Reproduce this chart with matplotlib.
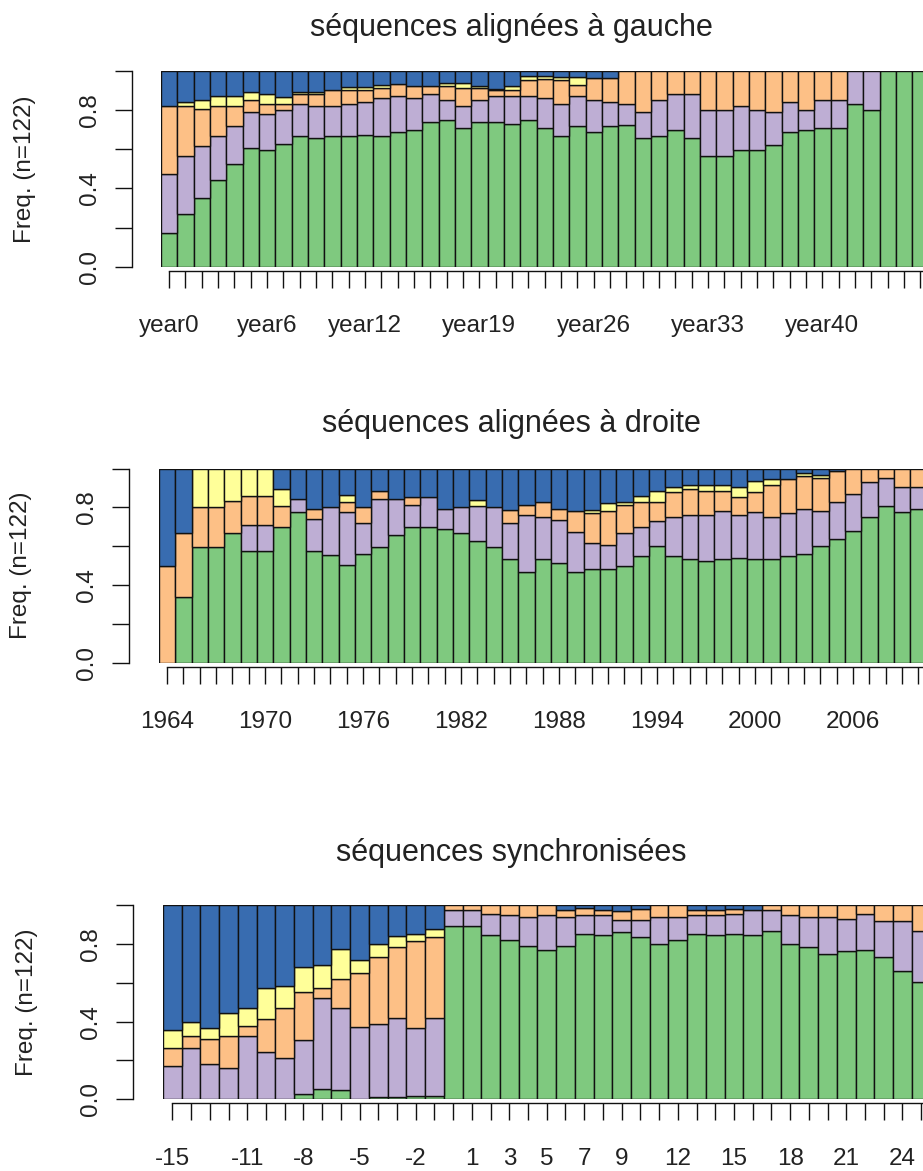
import matplotlib
matplotlib.use('Agg')
import matplotlib.pyplot as plt
import numpy as np

plt.rcParams['font.family'] = ['Liberation Sans', 'DejaVu Sans']

W, H = 923, 1171
STATE_COLORS = ['#7FC97F', '#BEAED4', '#FDC086', '#FFFF99', '#386CB0']

# ---------------- Panel 1 : sequences aligned left (year0 ...) ----------------
left_ticks = [f'year{i}' for i in range(47)]
left_shown = ['year0', 'year6', 'year12', 'year19', 'year26', 'year33', 'year40']
left_green = [.174, .268, .350, .441, .525, .607, .598, .627, .667, .656, .667, .667, .675, .667, .687, .697,
              .740, .749, .709, .740, .740, .730, .749, .706, .667, .718, .687, .718, .726, .658, .667, .697,
              .658, .564, .564, .595, .595, .624, .687, .697, .706, .706, .832, .800, 1.0, 1.0, 1.0]
left_purple = [.300, .296, .265, .226, .193, .183, .180, .173, .162, .165, .154, .165, .168, .196, .185, .166,
               .144, .102, .112, .111, .132, .142, .123, .157, .165, .154, .164, .123, .106, .133, .184, .187,
               .226, .236, .236, .226, .203, .166, .154, .101, .145, .145, .168, .200, 0, 0, 0]
left_orange = [.347, .257, .188, .154, .103, .060, .054, .029, .055, .063, .080, .069, .058, .052, .060, .060,
               .039, .074, .094, .064, .029, .029, .082, .094, .120, .054, .115, .125, .168, .209, .149, .116,
               .116, .200, .200, .179, .202, .210, .159, .202, .149, .149, 0, 0, 0, 0, 0]
left_yellow = [0, .020, .048, .051, .051, .042, .052, .039, .010, .006, 0, .019, .019, .011, 0, 0,
               0, .014, .022, .008, .005, .022, .020, .017, .019, .045, 0, 0, 0, 0, 0, 0,
               0, 0, 0, 0, 0, 0, 0, 0, 0, 0, 0, 0, 0, 0, 0]
left_blue = [.179, .159, .149, .128, .128, .108, .116, .132, .106, .110, .099, .080, .080, .074, .068, .077,
             .077, .063, .063, .077, .094, .077, .026, .026, .029, .029, .034, .034, 0, 0, 0, 0,
             0, 0, 0, 0, 0, 0, 0, 0, 0, 0, 0, 0, 0, 0, 0]

# ---------------- Panel 2 : sequences aligned right (1964 ...) ----------------
right_ticks = [str(1964 + i) for i in range(47)]
right_shown = ['1964', '1970', '1976', '1982', '1988', '1994', '2000', '2006']
right_green = [0, .336, .595, .595, .667, .576, .576, .698, .774, .576, .555, .503, .560, .595, .659, .698,
               .698, .688, .667, .629, .595, .534, .469, .534, .512, .469, .481, .481, .500, .552, .603, .552,
               .534, .524, .534, .541, .534, .534, .552, .560, .603, .636, .679, .750, .810, .774, .791]
right_purple = [0, 0, 0, 0, 0, .134, .134, 0, .071, .164, .247, .271, .159, .248, .184, .116,
                .155, .103, .135, .181, .207, .185, .290, .216, .221, .202, .135, .126, .167, .146, .128, .198,
                .225, .235, .249, .218, .240, .216, .219, .231, .180, .190, .190, .179, .142, .131, .114]
right_orange = [.500, .330, .207, .207, .167, .147, .147, .107, 0, .051, 0, .054, .083, .040, 0, .039,
                0, 0, 0, 0, 0, .069, .055, .076, .058, .112, .155, .176, .147, .130, .095, .129,
                .138, .127, .103, .094, .104, .167, .177, .169, .169, .162, .131, .071, .048, .095, .095]
right_yellow = [0, 0, .198, .198, .166, .143, .143, .092, 0, 0, 0, .038, 0, 0, 0, 0,
                0, 0, 0, .030, 0, 0, 0, 0, 0, 0, .017, .039, .012, .029, .060, .026,
                .020, .031, .028, .050, .060, .031, 0, .018, .017, 0, 0, 0, 0, 0, 0]
right_blue = [.500, .334, 0, 0, 0, 0, 0, .103, .155, .209, .198, .134, .198, .117, .157, .147,
              .147, .209, .198, .160, .198, .212, .186, .174, .209, .217, .212, .178, .174, .143, .114, .095,
              .083, .083, .086, .097, .062, .052, .052, .022, .031, .012, 0, 0, 0, 0, 0]

# ---------------- Panel 3 : synchronised sequences (-15 ...) ----------------
sync_ticks = [str(i) for i in range(-15, 26)]
sync_shown = ['-15', '-11', '-8', '-5', '-2', '1', '3', '5', '7', '9', '12', '15', '18', '21', '24']
sync_green = [0, 0, 0, 0, 0, 0, 0, .026, .052, .047, 0, .010, .010, .016, .016, .895,
              .895, .845, .822, .791, .771, .791, .853, .845, .862, .834, .802, .822, .853, .845, .853, .845,
              .866, .802, .784, .750, .762, .771, .733, .659, .607]
sync_purple = [.171, .262, .181, .162, .328, .245, .214, .279, .472, .425, .371, .378, .407, .353, .405, .083,
               .083, .112, .126, .147, .177, .147, .095, .103, .064, .092, .136, .116, .095, .103, .104, .133,
               .112, .146, .154, .188, .167, .186, .184, .258, .259]
sync_orange = [.095, .066, .128, .166, .051, .167, .258, .250, .052, .147, .279, .345, .366, .445, .415, .022,
               .022, .043, .052, .062, .052, .040, .040, .030, .043, .055, .062, .062, .030, .030, .026, 0,
               .022, .052, .062, .062, .071, .043, .083, .083, .134]
sync_yellow = [.091, .072, .060, .115, .093, .164, .114, .126, .114, .155, .069, .069, .060, .039, .042, 0,
               0, 0, 0, 0, 0, 0, 0, 0, 0, 0, 0, 0, 0, 0, 0, 0,
               0, 0, 0, 0, 0, 0, 0, 0, 0]
sync_blue = [.643, .600, .631, .557, .528, .424, .414, .319, .310, .226, .281, .198, .157, .147, .122, 0,
             0, 0, 0, 0, 0, .022, .012, .022, .031, .019, 0, 0, .022, .022, .017, .022,
             0, 0, 0, 0, 0, 0, 0, 0, 0]

FS = 17.5
TEXT_COLOR = '#222222'
fig = plt.figure(figsize=(W / 100, H / 100), dpi=100)


def draw_panel(ticks, shown, stacks, title, x0, bw, ybot, ytop, yax, title_y, ylab_x):
    n = len(ticks)
    nax = n + 2
    ax = fig.add_axes([x0 / W, (H - ybot) / H, nax * bw / W, (ybot - ytop) / H])
    ax.set_xlim(0, nax)
    ax.set_ylim(0, 1)
    x = np.arange(n) + 0.5
    bottom = np.zeros(n)
    for vals, col in zip(stacks, STATE_COLORS):
        v = np.asarray(vals, dtype=float)
        m = v > 0
        ax.bar(x[m], v[m], bottom=bottom[m], width=1.0, color=col,
               edgecolor='#111111', linewidth=1.0, zorder=2)
        bottom += v
    for s in ['top', 'right']:
        ax.spines[s].set_visible(False)
    ax.spines['left'].set_position(('outward', (x0 - yax) * 0.72))
    ax.spines['left'].set_bounds(0, 1)
    ax.spines['bottom'].set_position(('outward', 4 * 0.72))
    ax.spines['bottom'].set_bounds(0.5, nax)
    for s in ['left', 'bottom']:
        ax.spines[s].set_linewidth(1.0)
        ax.spines[s].set_color('#111111')
    ax.set_yticks([0, .2, .4, .6, .8, 1.0])
    ax.set_yticklabels(['0.0', '', '0.4', '', '0.8', ''], rotation=90, va='center')
    ax.set_xticks(x)
    ax.set_xticklabels([t if t in shown else '' for t in ticks])
    ax.tick_params(axis='y', length=12.2, width=1.0, pad=10, labelsize=FS,
                   color='#111111', labelcolor=TEXT_COLOR)
    ax.tick_params(axis='x', length=12.2, width=1.0, pad=20, labelsize=FS,
                   color='#111111', labelcolor=TEXT_COLOR)
    fig.text(511 / W, 1 - title_y / H, title, ha='center', va='center', fontsize=22,
             color=TEXT_COLOR)
    fig.text(ylab_x / W, 1 - (ybot + ytop) / 2 / H, 'Freq. (n=122)', rotation=90,
             ha='center', va='center', fontsize=FS, color=TEXT_COLOR)
    return ax


draw_panel(left_ticks, left_shown,
           [left_green, left_purple, left_orange, left_yellow, left_blue],
           'séquences alignées à gauche', 161, 16.33, 266.7, 70.9, 131.7, 28, 25)
draw_panel(right_ticks, right_shown,
           [right_green, right_purple, right_orange, right_yellow, right_blue],
           'séquences alignées à droite', 159, 16.33, 662.5, 468.7, 128.5, 424, 21)
draw_panel(sync_ticks, sync_shown,
           [sync_green, sync_purple, sync_orange, sync_yellow, sync_blue],
           'séquences synchronisées', 163, 18.72, 1099.2, 905.3, 133.3, 853, 27)

fig.savefig('out.png', dpi=100)
